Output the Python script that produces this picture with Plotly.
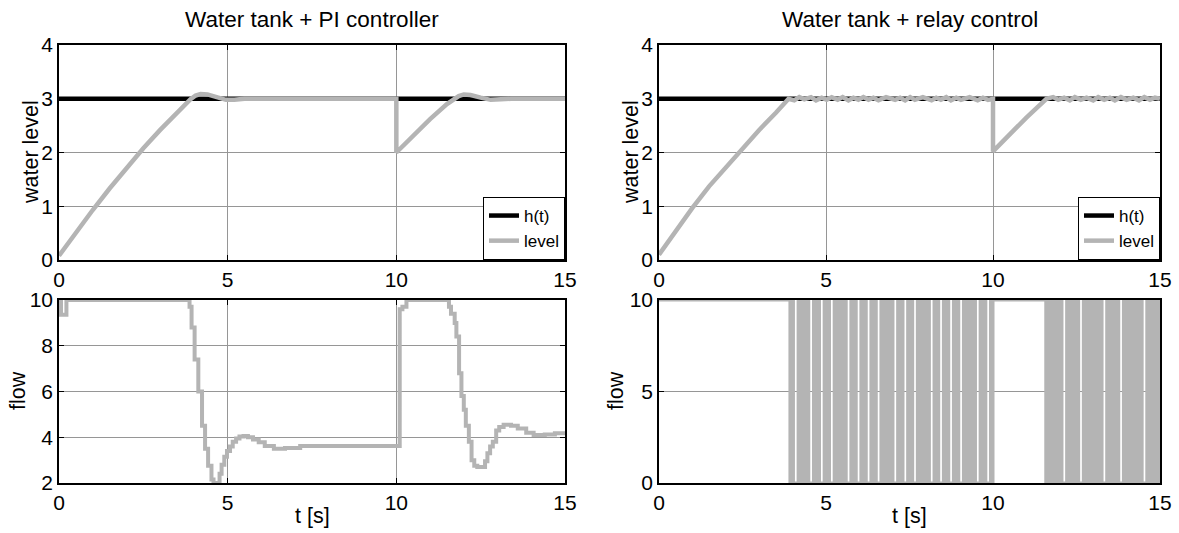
import plotly.graph_objects as go

# ---------------- data ----------------
setpoint_t = [0, 15]
setpoint_h = [3, 3]

pi_level_t = [0, 0.5, 1.0, 1.5, 2.0, 2.5, 3.0, 3.5, 3.9, 4.05, 4.2, 4.4, 4.7, 4.95, 5.2, 5.5, 6.0, 10.0,
              10.0, 10.5, 11.0, 11.5, 11.7, 11.85, 12.0, 12.2, 12.5, 12.8, 13.1, 13.4, 15.0]
pi_level_v = [0.08, 0.52, 0.93, 1.33, 1.71, 2.08, 2.42, 2.74, 2.99, 3.06, 3.09, 3.08, 3.02, 2.98, 2.98, 3.0, 3.0, 3.0,
              2.0, 2.32, 2.62, 2.9, 3.0, 3.05, 3.08, 3.07, 3.02, 2.98, 2.99, 3.0, 3.0]

relay_level_t = [0, 0.5, 1.0, 1.5, 2.0, 2.5, 3.0, 3.5, 3.88,
                 4.05, 4.2, 4.35, 4.55, 4.7, 4.87, 5.02, 5.17, 5.35, 5.5, 5.67, 5.82, 5.97, 6.12, 6.27, 6.42,
                 6.57, 6.8, 7.07, 7.22, 7.37, 7.52, 7.66, 7.9, 8.16, 8.3, 8.44, 8.6, 8.74, 8.9, 9.04, 9.3,
                 9.54, 9.7, 9.85, 10.0,
                 10.0, 10.5, 11.0, 11.6,
                 11.8, 11.95, 12.13, 12.3, 12.45, 12.63, 12.8, 13.0, 13.15, 13.33, 13.5, 13.65, 13.83, 14.0,
                 14.2, 14.37, 14.53, 14.7, 14.85, 15.0]
relay_level_v = [0.1, 0.55, 0.97, 1.37, 1.73, 2.08, 2.42, 2.74, 3.0,
                 2.97, 3.03, 2.99, 3.03, 2.97, 3.02, 2.98, 3.03, 2.98, 3.03, 2.97, 3.02, 2.98, 3.03, 2.98, 3.02,
                 2.97, 3.03, 2.98, 3.02, 2.97, 3.03, 2.98, 3.03, 2.97, 3.02, 2.98, 3.03, 2.97, 3.02, 2.98, 3.03,
                 2.97, 3.02, 2.98, 3.0,
                 2.02, 2.35, 2.65, 3.0,
                 3.03, 2.98, 3.02, 2.97, 3.03, 2.98, 3.02, 2.97, 3.03, 2.98, 3.02, 2.97, 3.03, 2.98,
                 3.02, 2.97, 3.03, 2.98, 3.02, 3.0]

pi_flow_t = [0, 0.06, 0.22, 3.8, 3.87, 3.93, 4.02, 4.13, 4.24, 4.33, 4.42, 4.52, 4.58, 4.76, 4.82, 4.9,
             4.98, 5.07, 5.15, 5.25, 5.35, 5.47, 5.6, 5.75, 5.92, 6.1, 6.37, 6.7, 7.15, 7.7,
             10.1, 10.18, 10.3, 11.56, 11.62, 11.73, 11.78, 11.86, 11.93, 12.0, 12.06, 12.15, 12.23,
             12.31, 12.4, 12.57, 12.63, 12.7, 12.78, 12.86, 12.96, 13.05, 13.18, 13.4, 13.6, 13.85,
             14.07, 14.4, 14.7, 15.0]
pi_flow_v = [10, 9.35, 10, 10, 9.7, 8.8, 7.4, 6.0, 4.5, 3.5, 2.75, 2.15, 2.0, 2.4, 2.8, 3.15,
             3.4, 3.6, 3.8, 3.95, 4.03, 4.05, 4.0, 3.9, 3.78, 3.62, 3.5, 3.53, 3.62, 3.62,
             9.6, 9.7, 10, 9.7, 9.4, 9.0, 8.4, 6.8, 5.8, 5.2, 4.5, 3.8, 3.0,
             2.75, 2.7, 2.7, 2.95, 3.3, 3.6, 3.8, 4.3, 4.45, 4.55, 4.5, 4.38, 4.2,
             4.1, 4.12, 4.17, 4.2]

# relay output: intervals of fast on/off switching (chattering) between 0 and 10
relay_chatter_start = [3.92, 4.12, 4.58, 4.9, 5.2, 5.7, 6.0, 6.3, 6.6, 7.1, 7.4, 7.69, 8.19, 8.47, 8.77,
                       9.07, 9.57, 9.88, 11.58, 12.16, 12.66, 13.36, 13.86, 14.56]
relay_chatter_end = [4.07, 4.53, 4.85, 5.15, 5.65, 5.95, 6.25, 6.55, 7.05, 7.35, 7.64, 8.14, 8.42, 8.72,
                     9.02, 9.52, 9.83, 10.0, 12.11, 12.61, 13.31, 13.81, 14.51, 15.0]
# relay output outside the chattering intervals (step-wise)
relay_flow_t = [0, 3.92, 10.0, 11.58, 15.0]
relay_flow_v = [10, 0, 10, 0, 0]

# ---------------- styling ----------------
GRAY = "rgb(180,180,180)"
FONT = "Liberation Sans, Arial, sans-serif"
W, H = 1179, 533

def px_x(p):
    return p / W

def px_y(p):
    return 1 - p / H

L_DOM = [px_x(59), px_x(565)]
R_DOM = [px_x(659), px_x(1160)]
T_DOM = [px_y(260), px_y(45)]
B_DOM = [px_y(483), px_y(300)]

fig = go.Figure()

fig.add_trace(go.Scatter(x=setpoint_t, y=setpoint_h, mode="lines", name="h(t)",
                         line=dict(color="black", width=4.5), xaxis="x", yaxis="y", legend="legend"))
fig.add_trace(go.Scatter(x=pi_level_t, y=pi_level_v, mode="lines", name="level",
                         line=dict(color=GRAY, width=4.5), xaxis="x", yaxis="y", legend="legend"))

fig.add_trace(go.Scatter(x=setpoint_t, y=setpoint_h, mode="lines", name="h(t)",
                         line=dict(color="black", width=4.5), xaxis="x2", yaxis="y2", legend="legend2"))
fig.add_trace(go.Scatter(x=relay_level_t, y=relay_level_v, mode="lines", name="level",
                         line=dict(color=GRAY, width=4.5), xaxis="x2", yaxis="y2", legend="legend2"))

fig.add_trace(go.Scatter(x=pi_flow_t, y=pi_flow_v, mode="lines", line_shape="hv",
                         line=dict(color=GRAY, width=4), xaxis="x3", yaxis="y3", showlegend=False))

bx, by = [], []
for s, e in zip(relay_chatter_start, relay_chatter_end):
    bx += [s, s, e, e, s, None]
    by += [0, 10, 10, 0, 0, None]
fig.add_trace(go.Scatter(x=bx, y=by, mode="lines", fill="toself", fillcolor=GRAY,
                         line=dict(color=GRAY, width=0), xaxis="x4", yaxis="y4", showlegend=False))
fig.add_trace(go.Scatter(x=relay_flow_t, y=relay_flow_v, mode="lines", line_shape="hv",
                         line=dict(color=GRAY, width=3), xaxis="x4", yaxis="y4", showlegend=False))

axis_common = dict(showline=True, linecolor="black", linewidth=1.5, mirror="allticks",
                   ticks="inside", ticklen=5, tickcolor="black", tickwidth=1,
                   showgrid=True, gridcolor="rgb(150,150,150)", gridwidth=1,
                   zeroline=False, layer="below traces",
                   tickfont=dict(family=FONT, size=21, color="black"), automargin=False)

legend_common = dict(yanchor="bottom", xanchor="right", bordercolor="black", borderwidth=1,
                     bgcolor="white", font=dict(family=FONT, size=17, color="black"),
                     itemwidth=30, tracegroupgap=0)

fig.update_layout(
    width=W, height=H,
    margin=dict(l=0, r=0, t=0, b=0),
    paper_bgcolor="white", plot_bgcolor="white",
    font=dict(family=FONT, color="black"),
    xaxis=dict(domain=L_DOM, anchor="y", range=[0, 15], tickvals=[0, 5, 10, 15], **axis_common),
    yaxis=dict(domain=T_DOM, anchor="x", range=[0, 4], tickvals=[0, 1, 2, 3, 4], **axis_common),
    xaxis2=dict(domain=R_DOM, anchor="y2", range=[0, 15], tickvals=[0, 5, 10, 15], **axis_common),
    yaxis2=dict(domain=T_DOM, anchor="x2", range=[0, 4], tickvals=[0, 1, 2, 3, 4], **axis_common),
    xaxis3=dict(domain=L_DOM, anchor="y3", range=[0, 15], tickvals=[0, 5, 10, 15], **axis_common),
    yaxis3=dict(domain=B_DOM, anchor="x3", range=[2, 10], tickvals=[2, 4, 6, 8, 10], **axis_common),
    xaxis4=dict(domain=R_DOM, anchor="y4", range=[0, 15], tickvals=[0, 5, 10, 15], **axis_common),
    yaxis4=dict(domain=B_DOM, anchor="x4", range=[0, 10], tickvals=[0, 5, 10], **axis_common),
    legend=dict(x=L_DOM[1], y=T_DOM[0], **legend_common),
    legend2=dict(x=R_DOM[1], y=T_DOM[0], **legend_common),
    showlegend=True,
)

ann = []
def add_text(text, x, y, size=21.5, angle=0):
    ann.append(dict(text=text, x=x, y=y, xref="paper", yref="paper", showarrow=False,
                    xanchor="center", yanchor="middle", textangle=angle,
                    font=dict(family=FONT, size=size, color="black")))

add_text("Water tank + PI controller", (L_DOM[0] + L_DOM[1]) / 2, px_y(19), size=22.5)
add_text("Water tank + relay control", (R_DOM[0] + R_DOM[1]) / 2, px_y(19), size=22.5)
add_text("water level", px_x(31), px_y(152), angle=-90)
add_text("water level", px_x(631), px_y(152), angle=-90)
add_text("flow", px_x(18), px_y(391), angle=-90)
add_text("flow", px_x(616), px_y(391), angle=-90)
add_text("t [s]", (L_DOM[0] + L_DOM[1]) / 2, px_y(516))
add_text("t [s]", (R_DOM[0] + R_DOM[1]) / 2, px_y(516))
fig.update_layout(annotations=ann)

fig.write_html("out.html", config={"displayModeBar": False},
               post_script="document.body.style.margin='0px';document.body.style.overflow='hidden';")
